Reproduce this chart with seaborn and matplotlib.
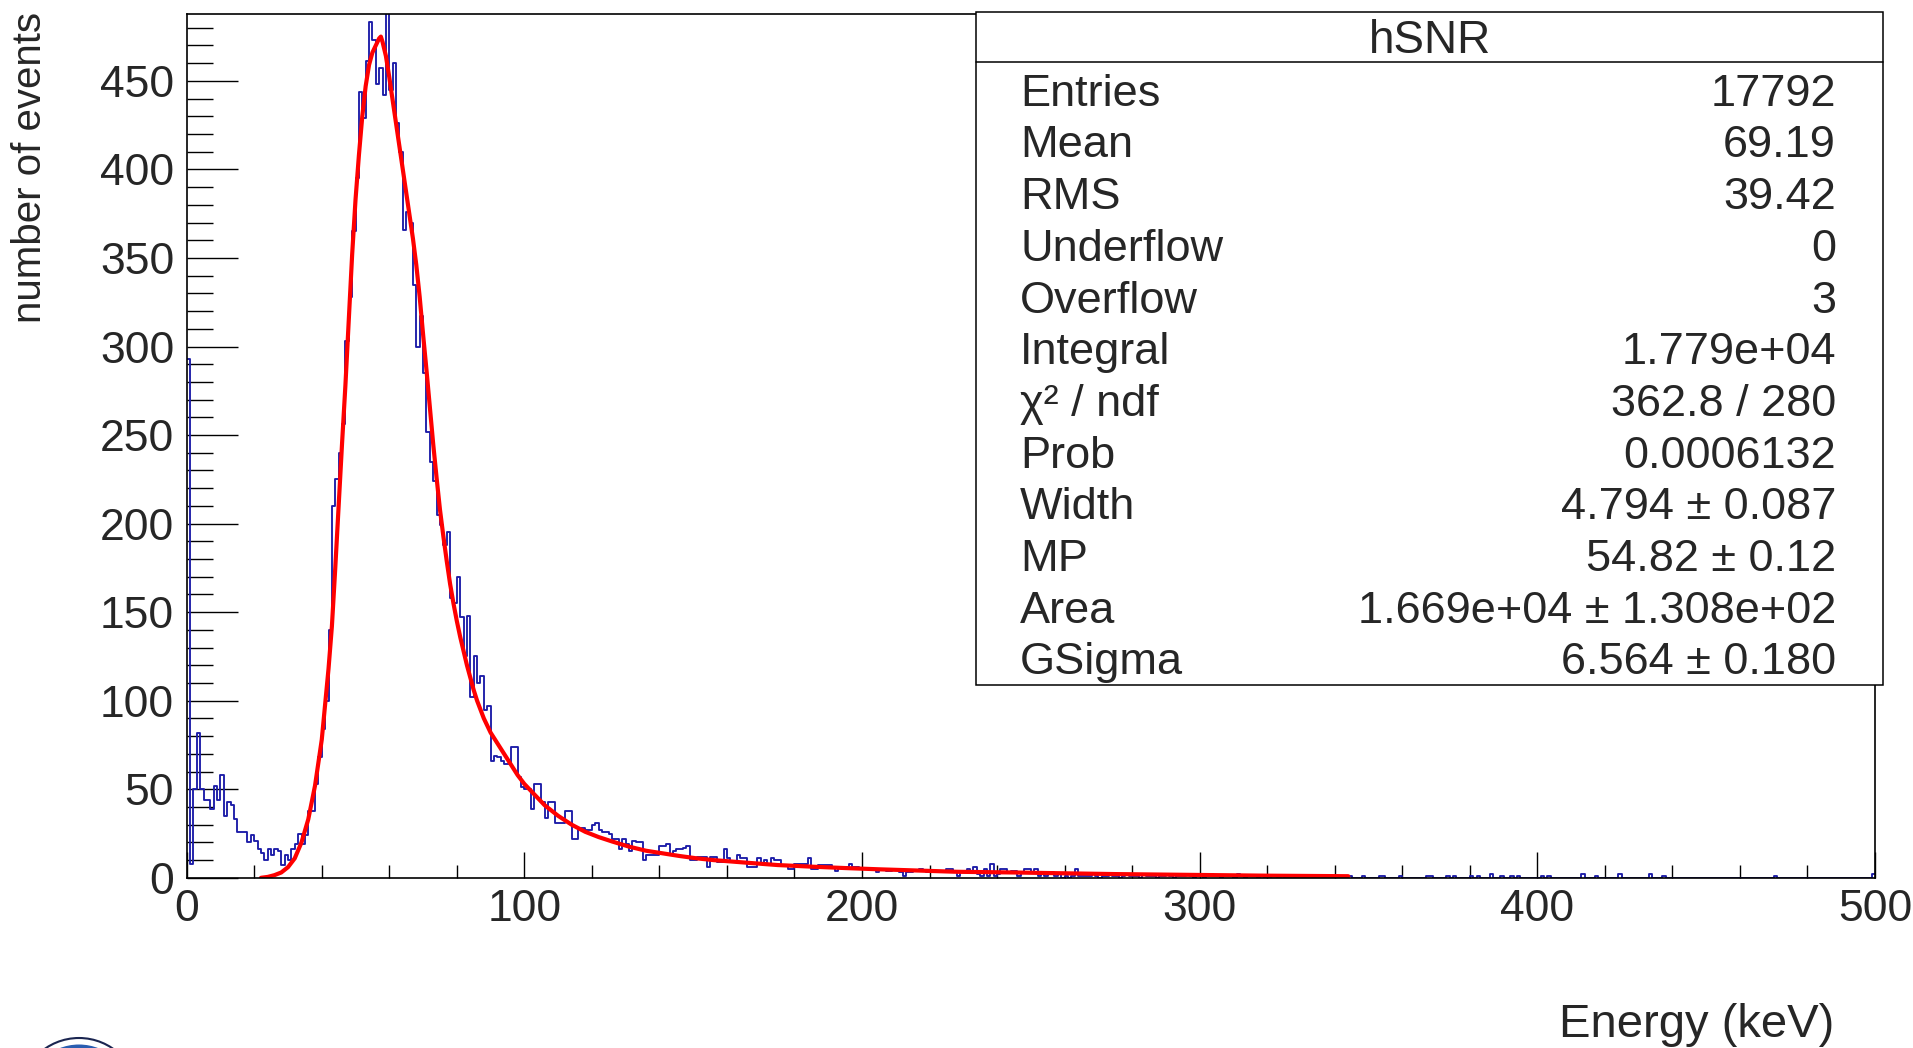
import numpy as np
import pandas as pd
import matplotlib
matplotlib.use("Agg")
import matplotlib.pyplot as plt
import seaborn as sns
from matplotlib.patches import Rectangle, Ellipse
from matplotlib.lines import Line2D
from matplotlib.ticker import MultipleLocator

# ---------------- data ----------------
# histogram: 1 keV bins from 0 to 500 keV
counts_0_43 = [293, 8, 50, 82, 50, 44, 44, 39, 52, 44, 58, 35, 43, 41, 33, 26, 26, 26,
               20, 24, 21, 16, 14, 10, 16, 13, 16, 15, 7, 13, 10, 16, 19, 25, 19, 24,
               38, 38, 53, 68, 84, 100, 140, 210]
counts_44_89 = [225, 240, 256, 303, 328, 365, 395, 444, 429, 461, 483, 473, 448, 457,
                442, 492, 445, 460, 426, 410, 366, 376, 370, 335, 300, 317, 285, 252,
                235, 224, 205, 199, 188, 195, 158, 155, 170, 147, 125, 148, 102, 125,
                110, 114, 95, 97]
counts_90_150 = [66, 69, 68, 66, 64, 64, 74, 74, 57, 51, 50, 50, 39, 53, 53, 43, 34, 43,
                 43, 31, 31, 31, 38, 38, 22, 22, 28, 28, 27, 27, 30, 31, 27, 26, 26, 25,
                 22, 22, 16, 22, 19, 15, 21, 20, 20, 10, 13, 13, 13, 13, 18, 18, 19, 13,
                 15, 16, 16, 17, 18, 10, 10]
counts_151_210 = [12, 12, 12, 6, 12, 12, 9, 9, 16, 11, 9, 9, 13, 11, 11, 6, 6, 6, 11, 8,
                  10, 7, 11, 10, 10, 7, 7, 5, 5, 8, 8, 8, 8, 11, 5, 5, 7, 7, 7, 7,
                  6, 4, 6, 6, 6, 8, 6, 6, 5, 5, 5, 5, 5, 3, 5, 5, 4, 4, 5, 5]
counts_211_266 = [3, 1, 3, 3, 4, 4, 5, 4, 3, 3, 4, 3, 3, 4, 5, 5, 3, 1, 3, 3, 5, 3, 6, 2,
                  1, 5, 1, 8, 1, 2, 5, 5, 3, 4, 4, 1, 3, 5, 5, 3, 5, 1, 2, 1, 3, 3, 1, 2,
                  0, 1, 0, 1, 5, 1, 1, 1]
counts_267_315 = [1, 2, 1, 0, 1, 1, 2, 1, 1, 0, 1, 2, 1, 1, 1, 0, 2, 1, 1, 1, 0, 1, 1, 2,
                  1, 0, 1, 1, 1, 2, 1, 0, 1, 1, 0, 1, 2, 1, 1, 0, 1, 1, 1, 0, 2, 1, 0, 1, 1]
counts_316_345 = [1, 0, 1, 0, 0, 1, 1, 0, 1, 0, 0, 1, 0, 1, 0, 0, 1, 0, 0, 1, 0, 1, 0, 0,
                  0, 1, 0, 0, 1, 0]
sparse_bins = [348, 353, 354, 359, 367, 368, 373, 375, 380, 382, 386, 389, 392, 394,
               401, 403, 413, 417, 424, 433, 437, 470, 499]
sparse_counts = [1, 1, 1, 1, 1, 1, 1, 1, 1, 1, 2, 1, 1, 1, 1, 1, 2, 1, 2, 2, 1, 1, 2]

# Landau (x) Gauss fit curve
fit_x = [22, 24, 26, 28, 30, 32, 34, 36, 38, 40, 42, 43, 44, 45, 46, 47, 48, 49, 50,
         51, 52, 53, 54, 55, 56, 57, 57.5, 58, 59, 60, 61, 62, 63, 64, 65, 66, 67, 68,
         69, 70, 71, 72, 73, 74, 75, 76, 77, 78, 79, 80, 81, 82, 83, 84, 85, 86, 87,
         88, 89, 90, 92, 94, 96, 98, 100, 103, 106, 110, 114, 118, 122, 126, 131, 136,
         141, 146, 151, 156, 166, 175, 185, 195, 205, 215, 228, 245, 258, 275, 300,
         320, 344]
fit_y = [0, 0.5, 1.5, 3, 6, 11, 20, 33, 52, 78, 118, 142, 175, 210, 245, 278, 315, 352,
         383, 408, 430, 447, 459, 466, 470, 474, 475, 472, 464, 452, 439, 426, 413, 400,
         387, 374, 361, 346, 328, 307, 287, 266, 245, 226, 208, 193, 179, 166, 155, 145,
         136, 128, 120, 113, 106, 100, 95, 90, 86, 82, 76, 70, 64, 58, 53, 47, 41, 35,
         30, 26, 23, 20.5, 17.6, 15.3, 13.8, 12.3, 11, 10, 8.5, 7.2, 6.3, 5.5, 4.8, 4.2,
         3.4, 3.0, 2.6, 2.1, 1.6, 1.2, 0.9]

stat_names = ["Entries", "Mean", "RMS", "Underflow", "Overflow", "Integral",
              "\u03c7\u00b2 / ndf", "Prob", "Width", "MP", "Area", "GSigma"]
stat_values = ["17792", "69.19", "39.42", "0", "3", "1.779e+04", "362.8 / 280",
               "0.0006132", "4.794 \u00b1 0.087", "54.82 \u00b1 0.12",
               "1.669e+04 \u00b1 1.308e+02", "6.564 \u00b1 0.180"]
stat_title = "hSNR"

# ---------------- build histogram table ----------------
counts = np.zeros(500)
dense = counts_0_43 + counts_44_89 + counts_90_150 + counts_151_210 + counts_211_266 \
    + counts_267_315 + counts_316_345
counts[:len(dense)] = dense
counts[np.array(sparse_bins)] = sparse_counts
hist_df = pd.DataFrame({"energy": np.arange(500) + 0.5, "n": counts})
fit_df = pd.DataFrame({"energy": fit_x, "fit": fit_y})

# ---------------- figure ----------------
sns.set_style("white")
plt.rcParams["font.family"] = ["Liberation Sans", "DejaVu Sans"]

W, H = 1913, 1048
fig = plt.figure(figsize=(W / 100, H / 100), dpi=100)


def fx(px):
    return px / W


def fy(py):
    return 1 - py / H


ax_l, ax_r, ax_t, ax_b = 186.7, 1875, 14.3, 877.8
ax = fig.add_axes([fx(ax_l), fy(ax_b), fx(ax_r) - fx(ax_l), fy(ax_t) - fy(ax_b)])

sns.histplot(data=hist_df, x="energy", weights="n", binwidth=1, binrange=(0, 500),
             element="step", fill=False, color="#1c1ca8", linewidth=1.35, ax=ax)
sns.lineplot(data=fit_df, x="energy", y="fit", color="#ff0000", linewidth=3.0,
             sort=False, ax=ax)

ax.set_xlim(0, 500)
ax.set_ylim(0, 487.6)
ax.set_xlabel("")
ax.set_ylabel("")
ax.xaxis.set_major_locator(MultipleLocator(100))
ax.xaxis.set_minor_locator(MultipleLocator(20))
ax.yaxis.set_major_locator(MultipleLocator(50))
ax.yaxis.set_minor_locator(MultipleLocator(10))
ax.tick_params(axis="x", which="major", direction="in", length=19, width=1.0,
               labelsize=32, pad=8, color="black", top=False, bottom=True)
ax.tick_params(axis="x", which="minor", direction="in", length=9.5, width=1.0,
               top=False, bottom=True, color="black")
ax.tick_params(axis="y", which="major", direction="in", length=37, width=1.0,
               labelsize=32, pad=9, color="black", left=True, right=False)
ax.tick_params(axis="y", which="minor", direction="in", length=18.5, width=1.0,
               left=True, right=False, color="black")
for sp in ax.spines.values():
    sp.set_visible(True)
    sp.set_color("black")
    sp.set_linewidth(1.2)

# axis titles
fig.text(fx(30), fy(12), "number of events", rotation=90, ha="center", va="top",
         fontsize=29)
fig.text(fx(1834), fy(1037), "Energy (keV)", ha="right", va="baseline", fontsize=34)

# stats box
bx_l, bx_r, bx_t, bx_b = 976, 1883, 12, 685
fig.add_artist(Rectangle((fx(bx_l), fy(bx_b)), fx(bx_r) - fx(bx_l), fy(bx_t) - fy(bx_b),
                         transform=fig.transFigure, facecolor="white",
                         edgecolor="black", linewidth=1.1, zorder=10))
fig.add_artist(Line2D([fx(bx_l), fx(bx_r)], [fy(62), fy(62)], transform=fig.transFigure,
                      color="black", linewidth=1.1, zorder=11))
fig.text(fx((bx_l + bx_r) / 2), fy(53), stat_title, ha="center", va="baseline",
         fontsize=33, zorder=12)
for i, (nm, val) in enumerate(zip(stat_names, stat_values)):
    yb = 105.8 + 51.68 * i
    fig.text(fx(1020), fy(yb), nm, ha="left", va="baseline", fontsize=32.5, zorder=12)
    fig.text(fx(1836), fy(yb), val, ha="right", va="baseline", fontsize=32.5, zorder=12)

# partial logo at the bottom-left corner (only its top edge is inside the image)
R_out, R_in = 59.5, 53.0
fig.add_artist(Ellipse((fx(79), fy(1097.5)), 2 * R_out / W, 2 * R_out / H,
                       transform=fig.transFigure, facecolor="white",
                       edgecolor="#1a2550", linewidth=1.5, zorder=5))
fig.add_artist(Ellipse((fx(79), fy(1097.5)), 2 * R_in / W, 2 * R_in / H,
                       transform=fig.transFigure, facecolor="#2a5db0",
                       edgecolor="none", zorder=6))

fig.savefig("out.png", dpi=100)
